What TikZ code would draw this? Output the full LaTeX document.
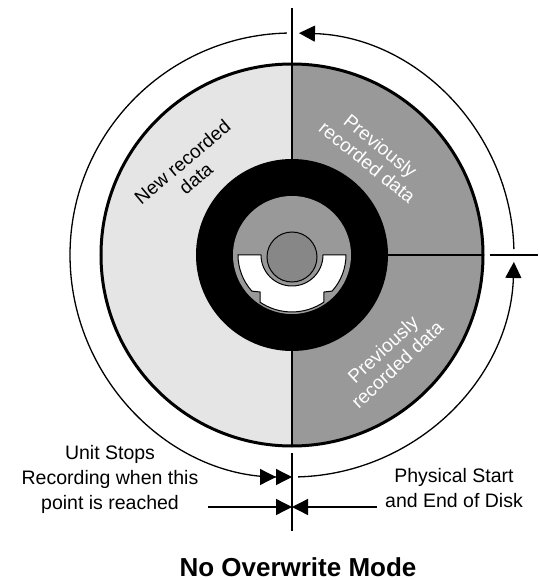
\documentclass[tikz,border=0pt]{standalone}
\usepackage{fontspec}
\setmainfont{Liberation Sans}
\usetikzlibrary{arrows.meta}
\definecolor{lightdisk}{gray}{0.9}
\definecolor{darkdisk}{gray}{0.6}
\definecolor{spindle}{gray}{0.53}
\tikzset{
	bigtip/.style={line width=1.3bp,-{Triangle[length=16bp,width=16bp]}},
	twotip/.style={line width=1.3bp,-{Triangle[length=16bp,width=16bp]Triangle[length=16bp,width=16bp]}},
	markline/.style={line width=1.3bp},
	sidelabel/.style={align=center,font=\fontsize{19.5bp}{25bp}\selectfont},
	disklabel/.style={align=center,inner sep=0pt,font=\fontsize{19bp}{21bp}\selectfont}
}
\begin{document}
\begin{tikzpicture}[x=1bp,y=1bp]
			\useasboundingbox (-292,-325) rectangle (247,255);
			% disk
			\fill[lightdisk] (0,0) circle (191);
			\fill[darkdisk] (0,191) arc[start angle=90,end angle=-90,radius=191] -- cycle;
			\draw[line width=2bp] (0,191) -- (0,-191);
			\draw[line width=2bp] (0,0) -- (191,0);
			\draw[line width=3bp] (0,0) circle (191);
			% hub
			\fill[black] (0,0) circle (96);
			\fill[darkdisk] (0,0) circle (59);
			\draw[fill=white,line width=1bp] (-54,0) arc[start angle=180,end angle=222,radius=54] -- (-32,-37) -- (-32,-47.2) arc[start angle=236,end angle=304,radius=57] -- (32,-37) -- (40.1,-36.1) arc[start angle=-42,end angle=0,radius=54] -- (31,0) arc[start angle=0,end angle=-180,radius=31] -- cycle;
			\draw[fill=spindle,line width=1bp] (0,-2) circle (25);
			% marks
			\coordinate (topout) at (0,247);
			\coordinate (topin) at (0,191);
			\coordinate (rightin) at (198,0);
			\coordinate (rightout) at (246,0);
			\coordinate (botin) at (0,-198);
			\coordinate (botout) at (0,-276);
			\draw[markline] (topout) -- (topin);
			\draw[markline] (rightin) -- (rightout);
			\draw[markline] (botin) -- (botout);
			% arcs
			\coordinate (arcR) at (1.5:222);
			\coordinate (arcB) at (-88.4:222);
			\coordinate (arcT) at (91.3:222);
			\draw[bigtip] (arcR) arc[start angle=1.5,end angle=88.2,radius=222];
			\draw[bigtip] (arcB) arc[start angle=-88.4,end angle=-1.8,radius=222];
			\draw[twotip] (arcT) arc[start angle=91.3,end angle=270,radius=222];
			\coordinate (dimL) at (-84,-252);
			\coordinate (dimM) at (0,-252);
			\coordinate (dimR) at (85,-252);
			\draw[bigtip] (dimL) -- (dimM);
			\draw[bigtip] (dimR) -- (dimM);
			% labels
			\node[disklabel,rotate=40] (newdata) at (-103,85) {New recorded\\data};
			\node[disklabel,white,rotate=-39] (olddataA) at (82,101) {Previously\\recorded data};
			\node[disklabel,white,rotate=43] (olddataB) at (98,-102) {Previously\\recorded data};
			\node[sidelabel] (stops) at (-182,-224) {Unit Stops\\Recording when this\\point is reached};
			\node[sidelabel] (physical) at (162,-233) {Physical Start\\and End of Disk};
			\node[inner sep=0pt,font=\bfseries\fontsize{26bp}{30bp}\selectfont] (title) at (6,-312) {No Overwrite Mode};
\end{tikzpicture}
\end{document}
